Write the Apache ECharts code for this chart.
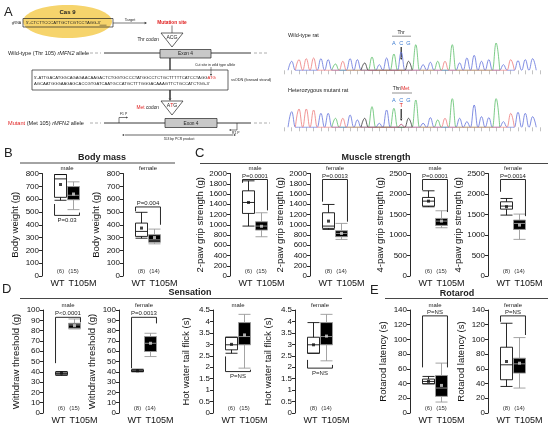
<!DOCTYPE html>
<html><head><meta charset="utf-8">
<script src="https://cdn.jsdelivr.net/npm/echarts@6/dist/echarts.min.js"></script>
<style>html,body{margin:0;padding:0;background:#fff}#c{width:550px;height:429px}</style>
</head><body><div id="c"></div>
<script>
// ---------- data ----------
const groups = ['WT', 'T105M'];

const bodyMassMaleBox = [[591, 614, 758, 792, 792], [518, 595, 630, 698, 735]];
const bodyMassMaleMean = [714, 640];
const bodyMassMaleN = ['(6)', '(15)'];
const bodyMassMaleBracket = [473, 562, 495];
const bodyMassMaleP = 'P=0.03';

const bodyMassFemaleBox = [[295, 309, 348, 413, 497], [251, 264, 282, 322, 366]];
const bodyMassFemaleMean = [374, 300];
const bodyMassFemaleN = ['(8)', '(14)'];
const bodyMassFemaleBracket = [539, 505, 400];
const bodyMassFemaleP = 'P=0.004';

const grip2MaleBox = [[974, 1221, 1435, 1662, 1857], [766, 896, 974, 1058, 1234]];
const grip2MaleMean = [1435, 970];
const grip2MaleN = ['(6)', '(15)'];
const grip2MaleBracket = [1883, 1818, 1280];
const grip2MaleP = 'P=0.0001';

const grip2FemaleBox = [[909, 929, 974, 1234, 1396], [714, 766, 831, 883, 1026]];
const grip2FemaleMean = [1071, 831];
const grip2FemaleN = ['(8)', '(14)'];
const grip2FemaleBracket = [1883, 1450, 1060];
const grip2FemaleP = 'P=0.0013';

const grip4MaleBox = [[1688, 1705, 1826, 1916, 2078], [1177, 1234, 1339, 1404, 1591]];
const grip4MaleMean = [1826, 1340];
const grip4MaleN = ['(6)', '(15)'];
const grip4MaleBracket = [2354, 2094, 1560];
const grip4MaleP = 'P=0.0001';

const grip4FemaleBox = [[1485, 1631, 1705, 1810, 1891], [893, 1136, 1282, 1364, 1510]];
const grip4FemaleMean = [1690, 1242];
const grip4FemaleN = ['(8)', '(14)'];
const grip4FemaleBracket = [2354, 2054, 1460];
const grip4FemaleP = 'P=0.0014';

const withdrawMaleBox = [[36.5, 37.1, 38.4, 39.7, 40.3], [81.6, 82.3, 85.5, 87.1, 91.3]];
const withdrawMaleMean = [38.8, 84.8];
const withdrawMaleN = ['(6)', '(15)'];
const withdrawMaleBracket = [92.9, 48.4, 88];
const withdrawMaleP = 'P<0.0001';

const withdrawFemaleBox = [[40, 40.3, 41, 41.9, 42.5], [54.8, 59.7, 67.7, 74.2, 77.4]];
const withdrawFemaleMean = [41, 67.7];
const withdrawFemaleN = ['(8)', '(14)'];
const withdrawFemaleBracket = [92.9, 43.5, 87];
const withdrawFemaleP = 'P=0.0013';

const tailMaleBox = [[2.61, 2.76, 2.98, 3.31, 3.31], [1.96, 2.98, 3.34, 3.95, 4.31]];
const tailMaleMean = [3.0, 3.41];
const tailMaleN = ['(6)', '(15)'];
const tailMaleBracket = [1.81, 2.47, 1.89];
const tailMaleP = 'P=NS';

const tailFemaleBox = [[2.61, 2.61, 2.98, 3.31, 3.95], [2.28, 2.98, 3.34, 3.95, 4.31]];
const tailFemaleMean = [2.98, 3.36];
const tailFemaleN = ['(8)', '(14)'];
const tailFemaleBracket = [1.96, 2.32, 2.1];
const tailFemaleP = 'P=NS';

const rotarodMaleBox = [[39.7, 39.7, 42.9, 46.1, 49.7], [14.9, 22.6, 33.9, 51, 67.8]];
const rotarodMaleMean = [43, 37.5];
const rotarodMaleN = ['(6)', '(15)'];
const rotarodMaleBracket = [132, 62, 62];
const rotarodMaleP = 'P=NS';

const rotarodFemaleBox = [[36.1, 45.2, 65.5, 89.4, 122], [33.9, 54.2, 66.8, 74.5, 102.5]];
const rotarodFemaleMean = [70, 67.7];
const rotarodFemaleN = ['(8)', '(14)'];
const rotarodFemaleBracket = [132, 124, 106];
const rotarodFemaleP = 'P=NS';

// Sanger traces: base call and peak height per position
const wtBases = 'CTTTCCATCCGACCACGACCATACCCCCACTCCC';
const wtHeights = [27, 32, 35, 37, 35, 32, 19, 27, 35, 32, 22, 40, 17, 37, 49, 55, 27, 77, 17, 24, 27, 27, 77, 22, 37, 45, 27, 32, 82, 17, 32, 29, 32, 35];
const mutBases = 'CTTTCCATCCGACCAYGACCATACCCCCACTCCC';
const mutHeights = [47, 55, 55, 52, 42, 42, 27, 27, 37, 22, 27, 62, 12, 52, 57, 9, 27, 82, 12, 29, 22, 27, 87, 27, 17, 67, 32, 29, 87, 17, 42, 45, 42, 32];

// ---------- layout ----------
const FF = '"Liberation Sans", Arial, sans-serif';
const rows = [{ top: 173.5, h: 102.5, title: 168 }, { top: 310, h: 103, title: 305.5 }];
const panels = [
  { box: bodyMassMaleBox, mean: bodyMassMaleMean, n: bodyMassMaleN, br: bodyMassMaleBracket, p: bodyMassMaleP, sex: 'male', yName: 'Body weight (g)', yMax: 800, yStep: 100, x0: 42, row: 0 },
  { box: bodyMassFemaleBox, mean: bodyMassFemaleMean, n: bodyMassFemaleN, br: bodyMassFemaleBracket, p: bodyMassFemaleP, sex: 'female', yName: 'Body weight (g)', yMax: 800, yStep: 100, x0: 123, row: 0 },
  { box: grip2MaleBox, mean: grip2MaleMean, n: grip2MaleN, br: grip2MaleBracket, p: grip2MaleP, sex: 'male', yName: '2-paw grip strength (g)', yMax: 2000, yStep: 200, x0: 230, row: 0 },
  { box: grip2FemaleBox, mean: grip2FemaleMean, n: grip2FemaleN, br: grip2FemaleBracket, p: grip2FemaleP, sex: 'female', yName: '2-paw grip strength (g)', yMax: 2000, yStep: 200, x0: 310, row: 0 },
  { box: grip4MaleBox, mean: grip4MaleMean, n: grip4MaleN, br: grip4MaleBracket, p: grip4MaleP, sex: 'male', yName: '4-paw grip strength (g)', yMax: 2500, yStep: 500, x0: 410, row: 0 },
  { box: grip4FemaleBox, mean: grip4FemaleMean, n: grip4FemaleN, br: grip4FemaleBracket, p: grip4FemaleP, sex: 'female', yName: '4-paw grip strength (g)', yMax: 2500, yStep: 500, x0: 488, row: 0 },
  { box: withdrawMaleBox, mean: withdrawMaleMean, n: withdrawMaleN, br: withdrawMaleBracket, p: withdrawMaleP, sex: 'male', yName: 'Withdraw threshold (g)', yMax: 100, yStep: 10, x0: 43, row: 1 },
  { box: withdrawFemaleBox, mean: withdrawFemaleMean, n: withdrawFemaleN, br: withdrawFemaleBracket, p: withdrawFemaleP, sex: 'female', yName: 'Withdraw threshold (g)', yMax: 100, yStep: 10, x0: 119, row: 1 },
  { box: tailMaleBox, mean: tailMaleMean, n: tailMaleN, br: tailMaleBracket, p: tailMaleP, sex: 'male', yName: 'Hot water tail flick (s)', yMax: 4.5, yStep: 0.5, x0: 213, row: 1 },
  { box: tailFemaleBox, mean: tailFemaleMean, n: tailFemaleN, br: tailFemaleBracket, p: tailFemaleP, sex: 'female', yName: 'Hot water tail flick (s)', yMax: 4.5, yStep: 0.5, x0: 295, row: 1 },
  { box: rotarodMaleBox, mean: rotarodMaleMean, n: rotarodMaleN, br: rotarodMaleBracket, p: rotarodMaleP, sex: 'male', yName: 'Rotarod latency (s)', yMax: 140, yStep: 20, x0: 410, row: 1 },
  { box: rotarodFemaleBox, mean: rotarodFemaleMean, n: rotarodFemaleN, br: rotarodFemaleBracket, p: rotarodFemaleP, sex: 'female', yName: 'Rotarod latency (s)', yMax: 140, yStep: 20, x0: 488, row: 1 }
];

const option = { animation: false, backgroundColor: '#fff', textStyle: { fontFamily: FF }, grid: [], xAxis: [], yAxis: [], series: [], graphic: { elements: [] } };
const G = option.graphic.elements;

function T(x, y, text, o) {
  o = o || {};
  G.push({ type: 'text', x: x, y: y, silent: true, rotation: o.rot || 0, style: Object.assign({ text: text, fontSize: 6, fill: '#222', align: 'left', verticalAlign: 'middle', fontFamily: FF }, o.style || {}) });
}
function L(x1, y1, x2, y2, o) {
  o = o || {};
  G.push({ type: 'line', silent: true, shape: { x1: x1, y1: y1, x2: x2, y2: y2 }, style: { stroke: o.c || '#222', lineWidth: o.w || 0.8, lineDash: o.dash || null } });
}
function PG(points, o) {
  o = o || {};
  G.push({ type: 'polygon', silent: true, shape: { points: points }, style: { fill: o.fill || '#222', stroke: o.stroke || null, lineWidth: o.w || 0.8 } });
}
function PL(points, o) {
  o = o || {};
  G.push({ type: 'polyline', silent: true, shape: { points: points }, style: { fill: null, stroke: o.c || '#222', lineWidth: o.w || 0.8 } });
}
function R(x, y, w, h, o) {
  o = o || {};
  G.push({ type: 'rect', silent: true, shape: { x: x, y: y, width: w, height: h }, style: { fill: o.fill || 'none', stroke: o.stroke || '#222', lineWidth: o.w || 0.7 } });
}
function head(x, y, dir, s) { // arrowhead
  s = s || 2.5;
  if (dir === 'r') PG([[x, y], [x - s * 1.4, y - s * 0.7], [x - s * 1.4, y + s * 0.7]]);
  if (dir === 'l') PG([[x, y], [x + s * 1.4, y - s * 0.7], [x + s * 1.4, y + s * 0.7]]);
  if (dir === 'd') PG([[x, y], [x - s * 0.7, y - s * 1.4], [x + s * 0.7, y - s * 1.4]]);
}

// ---------- box plot panels ----------
panels.forEach(function (pn, i) {
  const row = rows[pn.row];
  option.grid.push({ left: pn.x0 + 12, top: row.top, width: 26, height: row.h, outerBoundsMode: 'none', containLabel: false });
  const labelW = String(pn.yMax).length;
  option.yAxis.push({
    gridIndex: i, type: 'value', min: 0, max: pn.yMax, interval: pn.yStep, offset: 12,
    axisLine: { show: true, lineStyle: { color: '#111', width: 0.9 } },
    axisTick: { show: true, length: 3, lineStyle: { color: '#111', width: 0.9 } },
    axisLabel: { fontSize: 8, color: '#111', margin: 3, fontFamily: FF, hideOverlap: false, formatter: function (v) { return String(v); } },
    splitLine: { show: false },
    name: pn.yName, nameLocation: 'middle', nameRotate: 90, nameMoveOverlap: false,
    nameGap: labelW >= 4 ? 25 : 22,
    nameTextStyle: { fontSize: 9.5, color: '#111', fontFamily: FF }
  });
  option.xAxis.push({
    gridIndex: i, type: 'category', data: groups,
    axisLine: { show: false }, axisTick: { show: false },
    axisLabel: {
      interval: 0, hideOverlap: false, margin: 3, fontSize: 9, color: '#111', fontFamily: FF,
      formatter: function (v) { return v === 'WT' ? '{a|' + v + '}' : '{b|' + v + '}'; },
      rich: { a: { fontSize: 9, color: '#111', fontFamily: FF, padding: [0, 6, 0, 0] }, b: { fontSize: 9, color: '#111', fontFamily: FF, padding: [0, 0, 0, 18] } }
    }
  });
  option.xAxis.push({
    gridIndex: i, type: 'category', data: pn.n, position: 'bottom',
    axisLine: { show: false }, axisTick: { show: false },
    axisLabel: { inside: true, interval: 0, hideOverlap: false, margin: 2, fontSize: 6, color: '#333', fontFamily: FF }
  });
  option.series.push({
    type: 'boxplot', xAxisIndex: 2 * i, yAxisIndex: i, boxWidth: [12, 12], silent: true,
    data: pn.box.map(function (d, j) {
      return { value: d, itemStyle: j === 0 ? { color: '#fff', borderColor: '#111', borderWidth: 0.9 } : { color: '#000', borderColor: '#9a9a9a', borderWidth: 0.9 } };
    })
  });
  option.series.push({
    type: 'scatter', xAxisIndex: 2 * i, yAxisIndex: i, symbol: 'rect', symbolSize: 3, silent: true, z: 5,
    data: pn.mean.map(function (m, j) { return { value: [j, m], itemStyle: { color: j === 0 ? '#111' : '#d8d8d8' } }; })
  });
  const ptxt = pn.p;
  option.series.push({
    type: 'custom', xAxisIndex: 2 * i, yAxisIndex: i, silent: true, z: 6,
    data: [[0].concat(pn.br)],
    renderItem: function (params, api) {
      const bw = api.size([1, 0])[0];
      const half = bw * 0.46;
      const xL = api.coord([0, 0])[0] - half;
      const xR = api.coord([1, 0])[0] + half;
      const vb = api.value(1), vl = api.value(2), vr = api.value(3);
      const yB = api.coord([0, vb])[1], yL = api.coord([0, vl])[1], yR = api.coord([0, vr])[1];
      const below = vb < Math.min(vl, vr);
      return {
        type: 'group', children: [
          { type: 'polyline', shape: { points: [[xL, yL], [xL, yB], [xR, yB], [xR, yR]] }, style: { fill: null, stroke: '#111', lineWidth: 0.9 } },
          { type: 'text', x: (xL + xR) / 2, y: below ? yB + 2 : yB - 0.5, style: { text: ptxt, fontSize: 6, fill: '#222', align: 'center', verticalAlign: below ? 'top' : 'bottom', fontFamily: FF } }
        ]
      };
    }
  });
  T(pn.x0 + 25, row.title, pn.sex, { style: { align: 'center', fontSize: 6 } });
});

// ---------- Sanger traces ----------
const baseColor = { A: '#5cbf6a', C: '#6272dc', G: '#333333', T: '#ee7b7b' };
const traceGrids = [{ top: 42, bases: wtBases, h: wtHeights }, { top: 99, bases: mutBases, h: mutHeights }];
traceGrids.forEach(function (tg, k) {
  const gi = panels.length + k;
  option.grid.push({ left: 284.4, top: tg.top, width: 255.5, height: 28.3, outerBoundsMode: 'none', containLabel: false });
  option.xAxis.push({
    gridIndex: gi, type: 'value', min: 0, max: 35, interval: 1, position: 'top',
    axisLine: { show: false }, axisLabel: { show: false }, splitLine: { show: false },
    axisTick: { show: true, inside: true, length: 4, lineStyle: { color: '#999', width: 0.6 } }
  });
  option.yAxis.push({ gridIndex: gi, type: 'value', min: 0, max: 85, show: false, splitLine: { show: false } });
  const map = { A: [], C: [], G: [], T: [] };
  for (let i = 0; i < tg.bases.length; i++) {
    const b = tg.bases[i];
    const list = b === 'Y' ? ['C', 'T'] : [b];
    list.forEach(function (q) { map[q].push([i + 0.5, 0], [i + 1, tg.h[i]], [i + 1.5, 0]); });
  }
  Object.keys(map).forEach(function (q) {
    option.series.push({
      type: 'line', xAxisIndex: panels.length * 2 + k, yAxisIndex: gi, data: map[q], smooth: 0.45, smoothMonotone: 'x',
      symbol: 'none', silent: true, lineStyle: { color: baseColor[q], width: 0.8 }
    });
  });
});

// ---------- Panel A schematic ----------
T(4, 12, 'A', { style: { fontSize: 13 } });
G.push({ type: 'ellipse', silent: true, shape: { cx: 67.5, cy: 21.5, rx: 44.5, ry: 16.5 }, style: { fill: '#f6d46c' } });
T(67.5, 12.5, 'Cas 9', { style: { fontSize: 6, fontWeight: 'bold', align: 'center' } });
R(23, 18.5, 90, 8.5);
T(26, 22.8, "5'-CTCTTCCCATTGCTCGTCCTAGG-3'", { style: { fontSize: 4.2 } });
L(99.5, 25.2, 106.5, 25.2, { w: 0.5 });
T(21, 23, 'gRNA', { style: { fontSize: 3.5, align: 'right' } });
L(113, 23, 144, 23, { w: 0.6 }); head(147, 23, 'r', 1.8);
T(130, 19.5, 'Target', { style: { fontSize: 3.8, align: 'center' } });
T(172, 23, 'Mutation site', { style: { fontSize: 4.8, fontWeight: 'bold', fill: '#e02020', align: 'center' } });
L(172, 25.5, 172, 33, { w: 0.6 });
PG([[161, 33], [183, 33], [172, 47]], { fill: '#fff', stroke: '#222', w: 0.7 });
T(172, 37.8, 'ACG', { style: { fontSize: 5.2, align: 'center' } });
T(159, 40, 'Thr codon', { style: { fontSize: 4.8, align: 'right' } });
T(8, 53, '', { style: { text: '{n|Wild-type (Thr 105) }{i|rMFN2}{n| allele}', rich: { n: { fontSize: 5.6, fill: '#222', fontFamily: FF }, i: { fontSize: 5.6, fill: '#222', fontStyle: 'italic', fontFamily: FF } } } });
L(90, 53, 101, 53, { c: '#999', dash: [3, 2] });
L(104, 53, 251, 53, { w: 0.9 });
L(254, 53, 268, 53, { c: '#999', dash: [3, 2] });
R(160, 49.5, 51, 8.5, { fill: '#c8c8c8' });
T(185.5, 53.8, 'Exon 4', { style: { fontSize: 4.8, align: 'center' } });
L(170, 58, 170, 70, { w: 1.3 });
T(195, 65, 'Cut site in wild type allele', { style: { fontSize: 3.6 } });
L(211, 67, 211, 74, { w: 0.5 }); head(211, 76, 'd', 1.5);
R(32, 70, 196, 20);
T(34, 77.5, '', { style: { text: "{n|5'-ATTGACATGGCAGAGAACAAGACTCTGGTGCCCTATGGCCTCTGCTTTTTCATCCTAGG}{r|ATG}", rich: { n: { fontSize: 4.2, fill: '#222', fontFamily: FF }, r: { fontSize: 4.2, fill: '#e02020', fontFamily: FF } } } });
T(34, 84, "AGCAATGGGAAGAGCACCGTGATCAATGCCATGCTTTGGGACAAAGTTCTGCCATCTGG-3'", { style: { fontSize: 4.2 } });
T(231, 80, 'ssODN (forward strand)', { style: { fontSize: 3.8 } });
L(170, 90, 170, 98, { w: 1.4 }); head(170, 101, 'd', 2);
PG([[161, 101], [183, 101], [172, 115]], { fill: '#fff', stroke: '#222', w: 0.7 });
T(172, 105.8, '', { style: { text: '{n|A}{r|T}{n|G}', align: 'center', rich: { n: { fontSize: 5.2, fill: '#222', fontFamily: FF }, r: { fontSize: 5.2, fill: '#e02020', fontFamily: FF } } } });
T(159, 108, '', { style: { text: '{r|Met}{n| codon}', align: 'right', rich: { n: { fontSize: 4.8, fill: '#222', fontFamily: FF }, r: { fontSize: 4.8, fill: '#e02020', fontFamily: FF } } } });
T(8, 123, '', { style: { text: '{r|Mutant}{n| (Met 105) }{i|rMFN2}{n| allele}', rich: { n: { fontSize: 5.6, fill: '#222', fontFamily: FF }, r: { fontSize: 5.6, fill: '#e02020', fontFamily: FF }, i: { fontSize: 5.6, fill: '#222', fontStyle: 'italic', fontFamily: FF } } } });
L(90, 123, 101, 123, { c: '#999', dash: [3, 2] });
L(104, 123, 251, 123, { w: 0.9 });
L(254, 123, 270, 123, { c: '#999', dash: [3, 2] });
R(165, 118.5, 52, 9, { fill: '#c8c8c8' });
T(191, 123.2, 'Exon 4', { style: { fontSize: 4.8, align: 'center' } });
PL([[119, 123], [119, 117.5], [126, 117.5]], { w: 0.6 }); head(128, 117.5, 'r', 1.3);
T(120, 114.5, 'F1 P', { style: { fontSize: 3.4 } });
PL([[237, 123], [237, 130], [231, 130]], { w: 0.6 }); head(229, 130, 'l', 1.3);
T(232, 133.5, 'R1 P', { style: { fontSize: 3.4 } });
L(125, 135, 233, 135, { w: 0.7 }); head(122, 135, 'l', 1.5); head(236, 135, 'r', 1.5);
T(179, 139, '553 bp PCR product', { style: { fontSize: 3.4, align: 'center' } });

// Sanger annotations
T(288, 35, 'Wild-type rat', { style: { fontSize: 5.5 } });
T(401, 32.5, 'Thr', { style: { fontSize: 4.8, align: 'center' } });
L(392, 36.2, 411, 36.2, { w: 0.5 });
T(393.9, 43, 'A', { style: { fontSize: 5.5, fill: '#3d7bd0', align: 'center' } });
T(401.2, 43, 'C', { style: { fontSize: 5.5, fill: '#3d7bd0', align: 'center' } });
T(408.5, 43, 'G', { style: { fontSize: 5.5, fill: '#3d7bd0', align: 'center' } });
L(401.2, 47, 401.2, 57, { w: 1.2 }); head(401.2, 60, 'd', 1.8);
T(288, 90, 'Heterozygous mutant rat', { style: { fontSize: 5.5 } });
T(401, 89, '', { style: { text: '{n|Thr/}{r|Met}', align: 'center', rich: { n: { fontSize: 4.8, fill: '#222', fontFamily: FF }, r: { fontSize: 4.8, fill: '#e02020', fontFamily: FF } } } });
L(392, 93, 412, 93, { w: 0.5 });
T(393.9, 100, 'A', { style: { fontSize: 5.5, fill: '#3d7bd0', align: 'center' } });
T(401.2, 100, 'C', { style: { fontSize: 5.5, fill: '#3d7bd0', align: 'center' } });
T(408.5, 100, 'G', { style: { fontSize: 5.5, fill: '#3d7bd0', align: 'center' } });
T(401.2, 105.5, 'T', { style: { fontSize: 5.5, fill: '#e02020', align: 'center' } });
L(401.2, 109, 401.2, 118, { w: 1.2 }); head(401.2, 121, 'd', 1.8);

// ---------- panel letters & headers ----------
T(4, 153, 'B', { style: { fontSize: 13 } });
T(195, 153, 'C', { style: { fontSize: 13 } });
T(2, 289.5, 'D', { style: { fontSize: 13 } });
T(370, 290, 'E', { style: { fontSize: 13 } });
T(102, 157.5, 'Body mass', { style: { fontSize: 9, fontWeight: 'bold', align: 'center' } });
L(20, 163, 175, 163, { w: 0.9, c: '#333' });
T(376, 158, 'Muscle strength', { style: { fontSize: 9, fontWeight: 'bold', align: 'center' } });
L(200, 163.5, 548, 163.5, { w: 0.9, c: '#333' });
T(190, 293, 'Sensation', { style: { fontSize: 9, fontWeight: 'bold', align: 'center' } });
L(20, 298.5, 342, 298.5, { w: 0.9, c: '#333' });
T(457, 293.5, 'Rotarod', { style: { fontSize: 9, fontWeight: 'bold', align: 'center' } });
L(385, 298.5, 548, 298.5, { w: 0.9, c: '#333' });

const chart = echarts.init(document.getElementById('c'), null, { renderer: 'canvas' });
chart.setOption(option);
</script>
</body></html>
